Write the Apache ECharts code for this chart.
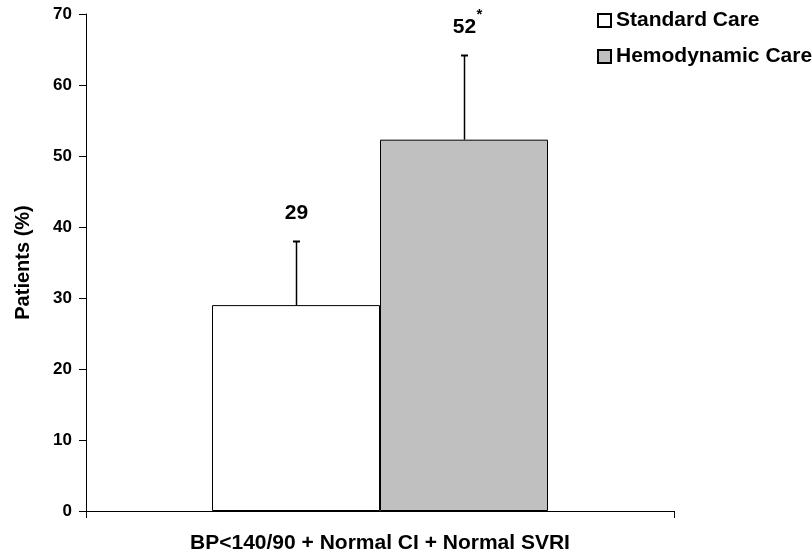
<!DOCTYPE html>
<html>
<head>
<meta charset="utf-8">
<script src="https://cdn.jsdelivr.net/npm/echarts@6/dist/echarts.min.js"></script>
<style>html,body{margin:0;padding:0;background:#fff;}#c{width:812px;height:554px;}</style>
</head>
<body>
<div id="c"></div>
<script>
var categories = ['BP<140/90 + Normal CI + Normal SVRI'];
var seriesNames = ['Standard Care', 'Hemodynamic Care'];
var standardCare = [29];
var hemodynamicCare = [52.3];
var errorUpper = [38, 64.2];
var valueLabels = ['29', '52'];
var labelSuffix = ['', '*'];
var yTicks = [0, 10, 20, 30, 40, 50, 60, 70];

var FONT = '"Liberation Sans", Arial, sans-serif';
var BAR_W = 168;
var chart = echarts.init(document.getElementById('c'));

var errData = [
  [0, standardCare[0], errorUpper[0], 0],
  [0, hemodynamicCare[0], errorUpper[1], 1]
];

chart.setOption({
  animation: false,
  backgroundColor: '#fff',
  textStyle: { fontFamily: FONT },
  grid: { left: 86, right: 138, top: 14, bottom: 42, containLabel: false },
  legend: {
    orient: 'vertical',
    left: 592,
    top: 5,
    itemWidth: 13,
    itemHeight: 13,
    itemGap: 15,
    icon: 'rect',
    data: seriesNames,
    textStyle: { fontFamily: FONT, fontWeight: 'bold', fontSize: 21, color: '#000' }
  },
  xAxis: {
    type: 'category',
    data: categories,
    boundaryGap: true,
    axisLine: { lineStyle: { color: '#000', width: 1 } },
    axisTick: { show: true, length: 7, lineStyle: { color: '#000' } },
    axisLabel: { color: '#000', fontWeight: 'bold', fontSize: 21, fontFamily: FONT, margin: 22 },
    splitLine: { show: false }
  },
  yAxis: {
    type: 'value',
    min: 0,
    max: 70,
    interval: 10,
    name: 'Patients (%)',
    nameLocation: 'middle',
    nameGap: 53,
    nameTextStyle: { color: '#000', fontWeight: 'bold', fontSize: 20, fontFamily: FONT },
    axisLine: { show: true, lineStyle: { color: '#000', width: 1 } },
    axisTick: { show: true, length: 7, lineStyle: { color: '#000' } },
    axisLabel: {
      color: '#000', fontWeight: 'bold', fontSize: 17, fontFamily: FONT, margin: 14,
      formatter: function (v) { return yTicks.indexOf(v) >= 0 ? String(v) : ''; }
    },
    splitLine: { show: false }
  },
  series: [
    {
      name: seriesNames[0],
      type: 'bar',
      data: standardCare,
      barWidth: BAR_W,
      barGap: '0%',
      itemStyle: { color: '#ffffff', borderColor: '#000', borderWidth: 1 }
    },
    {
      name: seriesNames[1],
      type: 'bar',
      data: hemodynamicCare,
      barWidth: BAR_W,
      barGap: '0%',
      itemStyle: { color: '#c0c0c0', borderColor: '#000', borderWidth: 1 }
    },
    {
      type: 'custom',
      silent: true,
      z: 10,
      data: errData,
      encode: { x: 0, y: [1, 2] },
      renderItem: function (params, api) {
        var idx = api.value(3);
        var base = api.coord([api.value(0), api.value(1)]);
        var top = api.coord([api.value(0), api.value(2)]);
        var x = Math.round(base[0] + (idx - 0.5) * BAR_W) + 0.5;
        var yb = base[1];
        var yt = Math.round(top[1]) + 0.5;
        var children = [
          { type: 'line', shape: { x1: x, y1: yb, x2: x, y2: yt }, style: { stroke: '#000', lineWidth: 1.5 } },
          { type: 'line', shape: { x1: x - 3.5, y1: yt, x2: x + 3.5, y2: yt }, style: { stroke: '#000', lineWidth: 2 } },
          { type: 'text', x: x, y: yt - 18, style: { text: valueLabels[idx], fill: '#000', font: 'bold 21px ' + FONT, align: 'center', verticalAlign: 'bottom' } }
        ];
        if (labelSuffix[idx]) {
          children.push({ type: 'text', x: x + 12, y: yt - 33, style: { text: labelSuffix[idx], fill: '#000', font: 'bold 15px ' + FONT, align: 'left', verticalAlign: 'bottom' } });
        }
        return { type: 'group', children: children };
      }
    }
  ]
});
</script>
</body>
</html>
